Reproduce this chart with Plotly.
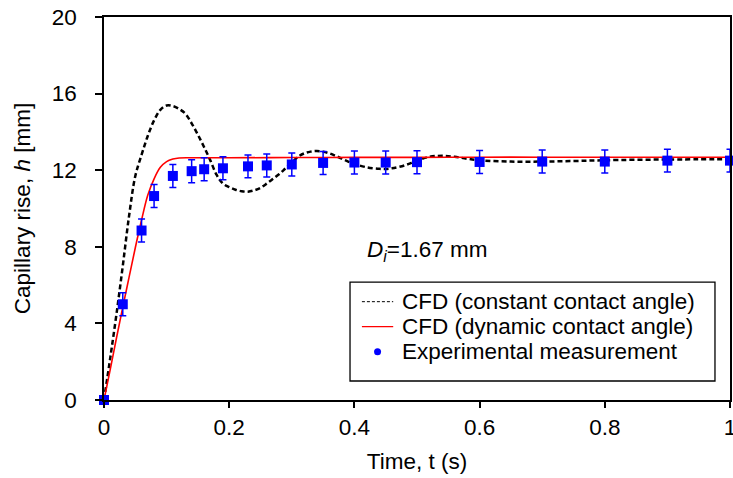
import plotly.graph_objects as go

# Experimental data
t_exp = [0, 0.03, 0.06, 0.08, 0.11, 0.14, 0.16, 0.19, 0.23, 0.26, 0.30, 0.35, 0.40, 0.45, 0.50, 0.60, 0.70, 0.80, 0.90, 1.00]
h_exp = [0, 5.0, 8.85, 10.65, 11.7, 11.95, 12.05, 12.1, 12.2, 12.25, 12.3, 12.38, 12.4, 12.4, 12.42, 12.43, 12.45, 12.45, 12.5, 12.5]
h_err = [0, 0.6, 0.6, 0.6, 0.6, 0.6, 0.6, 0.6, 0.6, 0.6, 0.6, 0.6, 0.6, 0.6, 0.6, 0.6, 0.6, 0.6, 0.6, 0.6]

# CFD constant contact angle
t_const = [0, 0.01, 0.02, 0.03, 0.04, 0.05, 0.06, 0.07, 0.08, 0.09, 0.10, 0.11, 0.12, 0.13, 0.14, 0.15,
           0.16, 0.17, 0.18, 0.19, 0.20, 0.21, 0.22, 0.23, 0.24, 0.25, 0.26, 0.27, 0.28, 0.29, 0.30,
           0.31, 0.32, 0.33, 0.34, 0.35, 0.36, 0.37, 0.38, 0.39, 0.40, 0.42, 0.44, 0.45, 0.46, 0.48,
           0.50, 0.52, 0.54, 0.56, 0.58, 0.60, 0.65, 0.70, 0.75, 0.80, 0.90, 1.00]
h_const = [0, 2.2, 4.5, 7.0, 9.6, 11.7, 12.8, 13.8, 14.6, 15.15, 15.38, 15.35, 15.2, 14.95, 14.45, 13.85,
           13.2, 12.5, 11.75, 11.3, 11.12, 10.98, 10.9, 10.88, 10.95, 11.08, 11.3, 11.55, 11.8, 12.1, 12.4,
           12.7, 12.88, 12.97, 13.0, 12.97, 12.88, 12.75, 12.6, 12.45, 12.33, 12.15, 12.07, 12.06, 12.1, 12.25,
           12.5, 12.7, 12.75, 12.7, 12.6, 12.52, 12.45, 12.45, 12.48, 12.52, 12.56, 12.57]

# CFD dynamic contact angle
t_dyn = [0, 0.01, 0.02, 0.03, 0.04, 0.05, 0.06, 0.07, 0.08, 0.09, 0.10, 0.11, 0.12, 0.14, 0.16,
         0.20, 0.30, 0.40, 0.50, 0.60, 0.70, 0.80, 0.90, 1.00]
h_dyn = [0, 1.6, 3.25, 4.85, 6.4, 7.95, 9.4, 10.7, 11.55, 12.15, 12.45, 12.58, 12.64, 12.65, 12.65,
         12.65, 12.66, 12.67, 12.67, 12.68, 12.68, 12.68, 12.68, 12.68]

x_ticks = [0, 0.2, 0.4, 0.6, 0.8, 1]
x_tick_text = ["0", "0.2", "0.4", "0.6", "0.8", "1"]
y_ticks = [0, 4, 8, 12, 16, 20]

legend_labels = ["CFD (constant contact angle)", "CFD (dynamic contact angle)", "Experimental measurement"]

FONT = "Liberation Sans, Arial, sans-serif"
FS = 22.5

fig = go.Figure()

fig.add_trace(go.Scatter(
    x=t_const, y=h_const, mode="lines", line_shape="spline",
    line=dict(color="black", width=2.5, dash="5px,3px"),
    name=legend_labels[0], showlegend=False, cliponaxis=False))

fig.add_trace(go.Scatter(
    x=t_dyn, y=h_dyn, mode="lines", line_shape="spline",
    line=dict(color="#ff0000", width=1.6),
    name=legend_labels[1], showlegend=False, cliponaxis=False))

fig.add_trace(go.Scatter(
    x=t_exp, y=h_exp, mode="markers",
    marker=dict(symbol="square", size=10, color="#0000ff"),
    error_y=dict(type="data", array=h_err, visible=True, color="#0000ff", thickness=1.5, width=3.5),
    name=legend_labels[2], showlegend=False, cliponaxis=False))

# ---- legend box drawn in paper coordinates ----
lx0, lx1, ly0, ly1 = 0.393, 0.976, 0.0496, 0.308
row_y = [0.2567, 0.1914, 0.1261]
sx0, sx1 = 0.412, 0.462
tx = 0.473

fig.add_shape(type="rect", xref="paper", yref="paper", x0=lx0, x1=lx1, y0=ly0, y1=ly1,
              line=dict(color="black", width=1.3), fillcolor="white", layer="above")
fig.add_shape(type="line", xref="paper", yref="paper", x0=sx0, x1=sx1, y0=row_y[0], y1=row_y[0],
              line=dict(color="black", width=1, dash="3px,2px"), layer="above")
fig.add_shape(type="line", xref="paper", yref="paper", x0=sx0, x1=sx1, y0=row_y[1], y1=row_y[1],
              line=dict(color="#ff0000", width=1.3), layer="above")
cx = (sx0 + sx1) / 2
fig.add_shape(type="circle", xref="paper", yref="paper", xsizemode="pixel", ysizemode="pixel",
              xanchor=cx, yanchor=row_y[2], x0=-3.5, x1=3.5, y0=-3.5, y1=3.5,
              line=dict(color="#0000ff", width=0), fillcolor="#0000ff", layer="above")
for lbl, ry in zip(legend_labels, row_y):
    fig.add_annotation(x=tx, y=ry, xref="paper", yref="paper", xanchor="left", yanchor="middle",
                       text=lbl, showarrow=False, font=dict(family=FONT, size=FS, color="black"))

fig.add_annotation(
    x=0.417, y=7.78, xref="x", yref="y", xanchor="left", yanchor="middle",
    text="<i>D</i><sub><i>i</i></sub>=1.67 mm", showarrow=False,
    font=dict(family=FONT, size=FS, color="black"))

fig.update_layout(
    width=733, height=478,
    margin=dict(l=104, r=3, t=17, b=78),
    paper_bgcolor="white", plot_bgcolor="white",
    font=dict(family=FONT, size=FS, color="black"),
    showlegend=False,
    xaxis=dict(
        range=[0, 1], tickvals=x_ticks, ticktext=x_tick_text, automargin=False,
        showline=True, linecolor="black", linewidth=1.5, mirror=True,
        ticks="outside", ticklen=6, tickcolor="black", tickwidth=1.5,
        showgrid=False, zeroline=False, ticklabeloverflow="allow",
        title=dict(text="Time, t (s)", font=dict(family=FONT, size=FS), standoff=14),
        tickfont=dict(family=FONT, size=FS)),
    yaxis=dict(
        range=[0, 20], tickvals=y_ticks, automargin=False,
        showline=True, linecolor="black", linewidth=1.5, mirror=True,
        ticks="outside", ticklen=7, tickcolor="black", tickwidth=1.5,
        showgrid=False, zeroline=False, ticklabelstandoff=14,
        title=dict(text="Capillary rise, <i>h</i> [mm]", font=dict(family=FONT, size=FS), standoff=15),
        tickfont=dict(family=FONT, size=FS)),
)

fig.write_html("out.html")
